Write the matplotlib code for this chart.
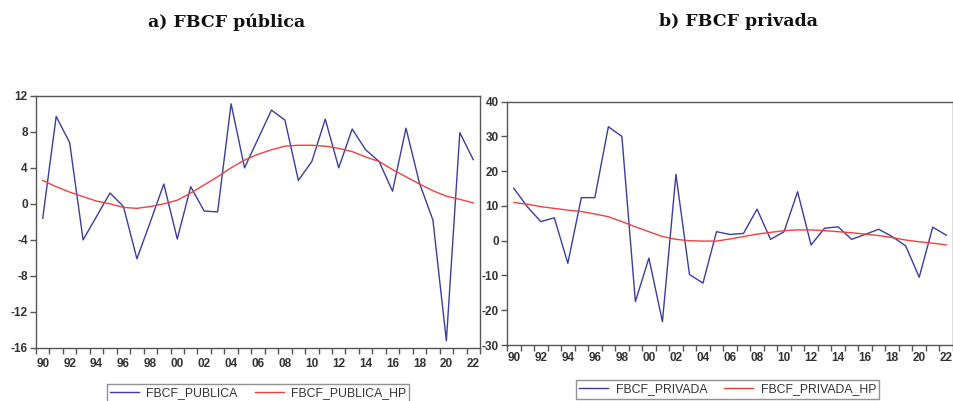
import matplotlib
matplotlib.use("Agg")
import matplotlib.pyplot as plt
from matplotlib.ticker import FixedLocator
from matplotlib.lines import Line2D

years = list(range(1990, 2023))

fbcf_publica = [-1.6, 9.7, 6.8, -4.0, -1.4, 1.2, -0.3, -6.1, -2.0, 2.2, -3.9,
                1.9, -0.8, -0.9, 11.1, 4.0, 7.2, 10.4, 9.3, 2.6, 4.7, 9.4,
                4.0, 8.3, 6.0, 4.7, 1.4, 8.4, 2.3, -1.8, -15.2, 7.9, 4.9]
fbcf_publica_hp = [2.6, 1.9, 1.3, 0.8, 0.3, 0.0, -0.4, -0.5, -0.3, 0.0, 0.4,
                   1.2, 2.1, 3.0, 4.0, 4.85, 5.5, 6.0, 6.4, 6.5, 6.5, 6.4,
                   6.15, 5.8, 5.2, 4.7, 3.8, 3.0, 2.2, 1.45, 0.85, 0.5, 0.1]

fbcf_privada = [15.1, 9.8, 5.5, 6.6, -6.5, 12.4, 12.4, 32.8, 30.0, -17.5, -5.0,
                -23.3, 19.1, -9.7, -12.2, 2.6, 1.8, 2.1, 9.1, 0.4, 2.6, 14.1,
                -1.2, 3.6, 4.0, 0.4, 1.8, 3.3, 1.2, -1.5, -10.5, 3.9, 1.6]
fbcf_privada_hp = [11.0, 10.5, 9.8, 9.3, 8.8, 8.4, 7.7, 6.9, 5.5, 4.0, 2.6,
                   1.2, 0.4, 0.0, -0.1, -0.1, 0.5, 1.2, 1.9, 2.4, 2.9, 3.1,
                   3.1, 2.9, 2.6, 2.3, 1.9, 1.5, 0.9, 0.2, -0.3, -0.7, -1.2]

left_yticks = [-16, -12, -8, -4, 0, 4, 8, 12]
right_yticks = [-30, -20, -10, 0, 10, 20, 30, 40]
xlabel_years = list(range(1990, 2023, 2))
xlabels = [f"{y % 100:02d}" for y in xlabel_years]

titles = ["a) FBCF pública", "b) FBCF privada"]
names_left = ["FBCF_PUBLICA", "FBCF_PUBLICA_HP"]
names_right = ["FBCF_PRIVADA", "FBCF_PRIVADA_HP"]

BLUE = "#3d3d9e"
RED = "#f04040"
FRAME = "#555555"
TXT = "#333333"
SANS = ["Liberation Sans", "DejaVu Sans"]

W, H = 954, 401
fig = plt.figure(figsize=(W / 100, H / 100), dpi=100)
fig.patch.set_facecolor("white")


def px_axes(x0, x1, ytop, ybot):
    return fig.add_axes([x0 / W, 1 - ybot / H, (x1 - x0) / W, (ybot - ytop) / H])


def style(ax, yticks, xpad):
    ax.set_xlim(1989.5, 2022.5)
    ax.set_ylim(yticks[0], yticks[-1])
    for s in ax.spines.values():
        s.set_color(FRAME)
        s.set_linewidth(1.0)
    ax.xaxis.set_major_locator(FixedLocator(xlabel_years))
    ax.set_xticklabels(xlabels)
    ax.xaxis.set_minor_locator(FixedLocator([y + 0.5 for y in range(1989, 2023)]))
    ax.tick_params(axis="x", which="major", length=0, pad=xpad)
    ax.tick_params(axis="x", which="minor", length=4, width=1, color=FRAME, direction="out")
    ax.set_yticks(yticks)
    ax.set_yticklabels([str(v) for v in yticks])
    ax.tick_params(axis="y", which="major", length=4, width=1, color=FRAME, direction="out", pad=2)
    for lab in ax.get_xticklabels() + ax.get_yticklabels():
        lab.set_fontfamily(SANS)
        lab.set_fontsize(8.5)
        lab.set_color(TXT)
        lab.set_fontweight("bold")


def legend(ax, names, x0, x1, ytop, ybot):
    handles = [Line2D([], [], color=BLUE, lw=1.0), Line2D([], [], color=RED, lw=1.0)]
    leg = fig.legend(handles, names, loc="center",
                     bbox_to_anchor=((x0 + x1) / 2 / W, 1 - (ytop + ybot) / 2 / H),
                     ncol=2, frameon=True, fancybox=False, handlelength=2.4,
                     handletextpad=0.6, columnspacing=1.4, borderpad=0.25,
                     prop={"family": SANS, "size": 8.8})
    leg.get_frame().set_edgecolor("#777777")
    leg.get_frame().set_linewidth(1.0)
    for t in leg.get_texts():
        t.set_color(TXT)
    return leg


# Left panel
axL = px_axes(36, 480, 95.7, 348)
axL.plot(years, fbcf_publica, color=BLUE, lw=1.0)
axL.plot(years, fbcf_publica_hp, color=RED, lw=1.0)
style(axL, left_yticks, 7)

# Right panel
axR = px_axes(507, 953, 101.7, 345)
axR.plot(years, fbcf_privada, color=BLUE, lw=1.0)
axR.plot(years, fbcf_privada_hp, color=RED, lw=1.0)
style(axR, right_yticks, 5)

legend(axL, names_left, 110, 406, 384, 402)
legend(axR, names_right, 581, 874, 381, 398)

fig.text(227 / W, 1 - 22 / H, titles[0], ha="center", va="center",
         fontfamily=["DejaVu Serif"], fontweight="bold", fontsize=12.5, color="#111111")
fig.text(738 / W, 1 - 22 / H, titles[1], ha="center", va="center",
         fontfamily=["DejaVu Serif"], fontweight="bold", fontsize=12.5, color="#111111")

fig.savefig("out.png", dpi=100, facecolor="white")
